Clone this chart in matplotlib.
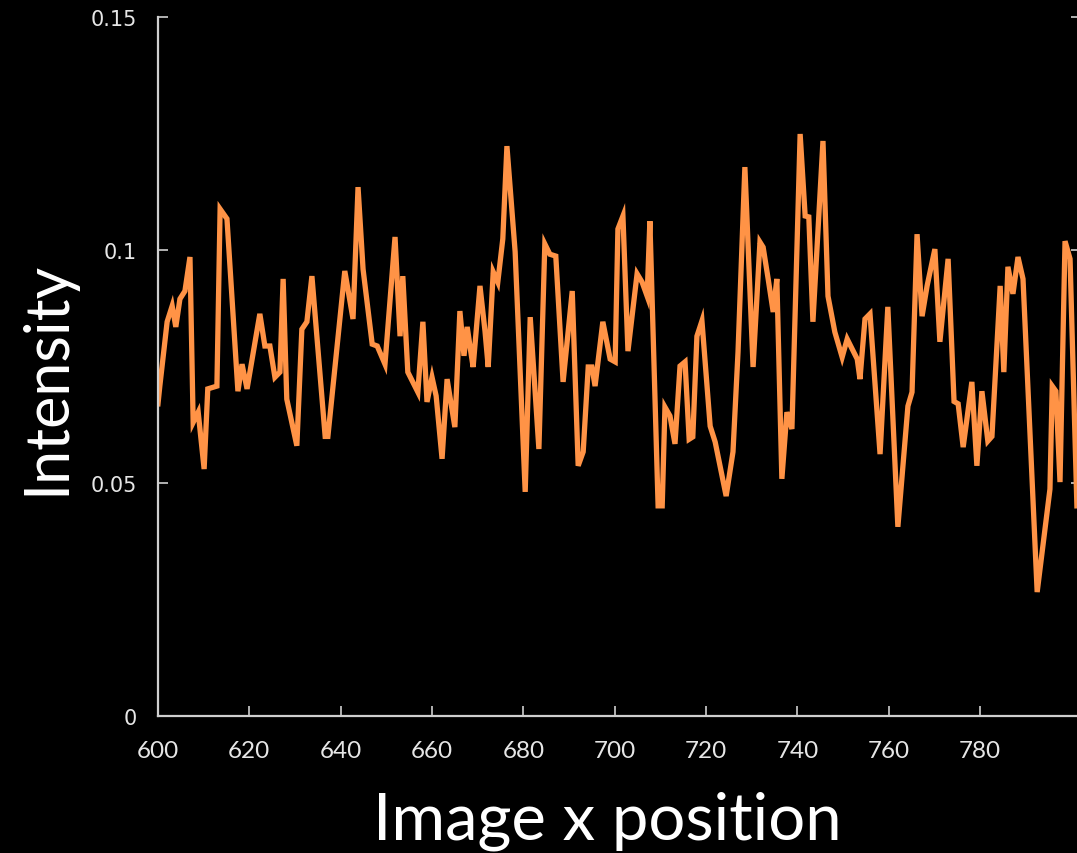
import matplotlib
matplotlib.use('Agg')
import matplotlib.pyplot as plt
from matplotlib import font_manager

# Vertices of the intensity profile
xpos = [600.0, 600.4, 602.0, 603.1, 603.9, 604.8, 605.9, 607.0, 607.7, 608.8,
        610.1, 610.9, 612.9, 613.6, 615.1, 617.5, 618.4, 619.5, 622.3, 623.4,
        624.5, 625.6, 626.7, 627.4, 628.2, 630.4, 631.5, 632.6, 633.7, 636.6,
        637.2, 640.9, 642.7, 643.8, 644.9, 646.9, 648.0, 649.7, 651.9, 653.0,
        653.6, 654.7, 656.9, 658.0, 658.9, 660.0, 660.9, 662.2, 663.3, 665.0,
        666.1, 667.0, 667.7, 668.5, 669.0, 670.5, 671.6, 672.3, 673.4, 674.4,
        675.5, 676.4, 678.2, 680.4, 681.5, 683.4, 684.7, 685.8, 687.1, 688.7,
        690.7, 692.0, 693.1, 694.2, 695.0, 695.7, 697.4, 699.0, 700.1, 700.7,
        701.8, 702.9, 704.9, 706.0, 707.1, 707.7, 709.5, 710.4, 711.0, 712.1,
        713.2, 714.3, 715.4, 716.3, 717.1, 718.0, 719.1, 720.9, 722.0, 724.4,
        725.9, 727.0, 728.5, 730.3, 731.8, 732.5, 733.6, 734.7, 735.5, 736.6,
        737.7, 738.8, 740.6, 741.7, 742.5, 743.4, 745.6, 746.7, 748.2, 749.8,
        750.9, 753.1, 753.7, 754.8, 755.9, 758.1, 759.8, 762.0, 764.2, 765.1,
        766.2, 767.3, 768.4, 770.1, 771.2, 773.0, 774.3, 775.2, 776.3, 778.2,
        779.3, 780.4, 781.7, 782.6, 784.4, 785.2, 786.1, 787.2, 788.3, 789.4,
        792.5, 795.3, 795.8, 796.6, 797.5, 798.6, 799.7, 801.2]

intensity = [0.067, 0.0708, 0.0846, 0.088, 0.0835, 0.0895, 0.0912, 0.0985, 0.063, 0.0652,
             0.053, 0.0702, 0.0708, 0.1088, 0.1067, 0.0697, 0.0755, 0.0702, 0.0863, 0.0794,
             0.0794, 0.0727, 0.0738, 0.0938, 0.068, 0.058, 0.083, 0.0846, 0.0944, 0.060,
             0.060, 0.0955, 0.0852, 0.1135, 0.0959, 0.0798, 0.0794, 0.0755, 0.1028, 0.0815,
             0.0944, 0.0738, 0.0695, 0.0846, 0.0674, 0.0727, 0.0687, 0.0552, 0.0723, 0.062,
             0.0869, 0.0773, 0.0835, 0.0781, 0.0749, 0.0923, 0.0826, 0.0749, 0.0953, 0.0931,
             0.1024, 0.1223, 0.0996, 0.0481, 0.0856, 0.0573, 0.1013, 0.0991, 0.0987, 0.0717,
             0.0912, 0.0537, 0.0567, 0.0749, 0.0749, 0.0708, 0.0846, 0.0766, 0.076, 0.1045,
             0.1073, 0.0783, 0.0949, 0.0931, 0.0901, 0.1062, 0.0451, 0.0451, 0.0663, 0.0644,
             0.0584, 0.0751, 0.076, 0.0594, 0.0599, 0.0815, 0.0848, 0.0622, 0.0588, 0.0472,
             0.0567, 0.0781, 0.1178, 0.0749, 0.1017, 0.1006, 0.0938, 0.0867, 0.0938, 0.0509,
             0.0652, 0.0616, 0.1249, 0.1073, 0.1071, 0.0846, 0.1234, 0.0901, 0.0824, 0.077,
             0.0809, 0.0766, 0.0723, 0.0852, 0.0863, 0.0562, 0.0878, 0.0406, 0.0665, 0.0695,
             0.1034, 0.0858, 0.0923, 0.1002, 0.0803, 0.0981, 0.0675, 0.067, 0.0577, 0.0717,
             0.0537, 0.0697, 0.059, 0.060, 0.0923, 0.0738, 0.0964, 0.0906, 0.0985, 0.0938,
             0.0266, 0.0487, 0.0708, 0.0697, 0.0502, 0.1019, 0.0981, 0.0451]

xticks = [600, 620, 640, 660, 680, 700, 720, 740, 760, 780]
yticks = [0, 0.05, 0.1, 0.15]
ytick_labels = ['0', '0.05', '0.1', '0.15']

# narrow font for the x tick labels if there is one
names = {f.name for f in font_manager.fontManager.ttflist}
narrow = 'Liberation Sans Narrow' if 'Liberation Sans Narrow' in names else 'Lato'

fg = '#e6e6e6'
fig = plt.figure(figsize=(10.77, 8.54), dpi=100, facecolor='black')
ax = fig.add_axes([0.1467, 0.1604, 0.8566, 0.8185], facecolor='black')

ax.plot(xpos, intensity, color='#ff9346', linewidth=3.8, solid_joinstyle='miter')

ax.set_xlim(600, 802)
ax.set_ylim(0, 0.15)

for s in ['top', 'right']:
    ax.spines[s].set_visible(False)
for s in ['left', 'bottom']:
    ax.spines[s].set_color('#cfcfcf')
    ax.spines[s].set_linewidth(1.6)

ax.set_xticks(xticks)
ax.set_xticklabels([str(t) for t in xticks], family=narrow, fontsize=17.5, color=fg)
ax.set_yticks(yticks)
ax.set_yticklabels(ytick_labels, family='DejaVu Sans', fontsize=15, color=fg)
ax.tick_params(axis='x', direction='in', length=7, width=1.2, color='#cfcfcf', pad=17)
ax.tick_params(axis='y', direction='in', length=7, width=1.2, color='#cfcfcf', pad=15,
               right=True)

fig.text(607 / 1077, 1 - 840 / 854, 'Image x position', family='Lato', fontsize=47,
         color='white', ha='center', va='baseline')
fig.text(47 / 1077, 1 - 378 / 854, 'Intensity', family='Lato', fontsize=44,
         color='white', ha='center', va='center', rotation=90)

fig.savefig('out.png', dpi=100, facecolor='black')
